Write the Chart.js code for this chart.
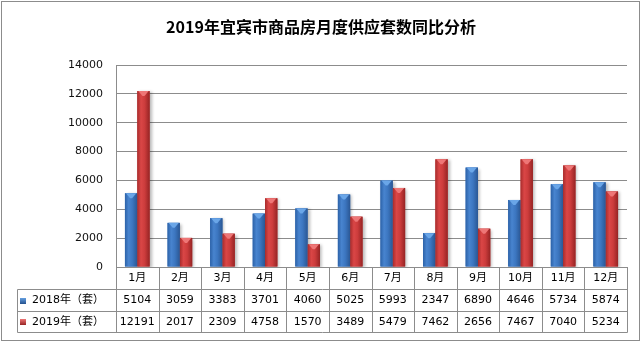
<!DOCTYPE html>
<html>
<head>
<meta charset="utf-8">
<style>
  html, body { margin: 0; padding: 0; background: #fff; }
  #wrap { width: 642px; height: 343px; position: relative; }
</style>
<script src="https://cdn.jsdelivr.net/npm/chart.js@4/dist/chart.umd.min.js"></script>
</head>
<body>
<div id="wrap"><canvas id="c" width="642" height="343"></canvas></div>
<script>
// Monthly new-housing supply, Yibin (units)
const chartTitle = '2019年宜宾市商品房月度供应套数同比分析';
const categories = ['1月', '2月', '3月', '4月', '5月', '6月', '7月', '8月', '9月', '10月', '11月', '12月'];
const seriesNames = ['2018年（套）', '2019年（套）'];
const supply2018 = [5104, 3059, 3383, 3701, 4060, 5025, 5993, 2347, 6890, 4646, 5734, 5874];
const supply2019 = [12191, 2017, 2309, 4758, 1570, 3489, 5479, 7462, 2656, 7467, 7040, 5234];
const yMin = 0, yMax = 14000, yStep = 2000;

const FONT = '"DejaVu Sans", "Noto Sans CJK SC", sans-serif';
const LINE = '#8c8c8c';

// bar shading: left edge, highlight, right edge, top bevel
const shades = [
  { base: '#3b73bd', stops: ['#2c62a8', '#4884cf', '#3c76c0', '#2a5794'], cap: '#6aa6e8' },
  { base: '#c53a3a', stops: ['#a82c2c', '#da4646', '#cc3c3c', '#962424'], cap: '#ee7676' }
];

// soft drop shadow under the bars
const barShadow = {
  id: 'barShadow',
  beforeDatasetDraw(chart) {
    const ctx = chart.ctx;
    ctx.save();
    ctx.shadowColor = 'rgba(0,0,0,0.28)';
    ctx.shadowBlur = 3;
    ctx.shadowOffsetX = 2;
    ctx.shadowOffsetY = 1;
  },
  afterDatasetDraw(chart) {
    chart.ctx.restore();
  }
};

// cylinder-like shading and bevelled caps on each bar
const barShade = {
  id: 'barShade',
  afterDatasetsDraw(chart) {
    const ctx = chart.ctx;
    chart.data.datasets.forEach((ds, di) => {
      const meta = chart.getDatasetMeta(di);
      const s = shades[di];
      meta.data.forEach(bar => {
        const l = bar.x - bar.width / 2, r = bar.x + bar.width / 2;
        const top = bar.y, h = bar.base - bar.y;
        const g = ctx.createLinearGradient(l, 0, r, 0);
        g.addColorStop(0, s.stops[0]);
        g.addColorStop(0.3, s.stops[1]);
        g.addColorStop(0.6, s.stops[2]);
        g.addColorStop(1, s.stops[3]);
        ctx.save();
        ctx.fillStyle = g;
        ctx.fillRect(l, top, r - l, h);
        const capH = Math.min(5, h);
        ctx.fillStyle = s.cap;
        ctx.beginPath();
        ctx.moveTo(l + 1, top);
        ctx.lineTo(r - 1, top);
        ctx.lineTo(bar.x + 1, top + capH);
        ctx.lineTo(bar.x - 1, top + capH);
        ctx.closePath();
        ctx.fill();
        ctx.restore();
      });
    });
  }
};

// title, outer frame and the data table under the x axis
const frameAndTable = {
  id: 'frameAndTable',
  afterDraw(chart) {
    const ctx = chart.ctx;
    const { left, right, bottom } = chart.chartArea;
    const x = chart.scales.x;
    const n = categories.length;
    const snap = v => Math.round(v) + 0.5;

    ctx.save();
    // outer frame
    ctx.strokeStyle = LINE;
    ctx.lineWidth = 1;
    ctx.strokeRect(1.5, 1.5, 638, 339);

    // title
    ctx.fillStyle = '#000';
    ctx.font = 'bold 16px "Noto Sans CJK SC", sans-serif';
    ctx.textAlign = 'center';
    ctx.textBaseline = 'middle';
    ctx.fillText(chartTitle, 321, 27);

    // table grid
    const rows = [bottom, bottom + 22, bottom + 44, bottom + 65];
    const tableLeft = 17;
    const bounds = [left];
    for (let i = 1; i < n; i++) bounds.push((x.getPixelForValue(i - 1) + x.getPixelForValue(i)) / 2);
    bounds.push(right);

    ctx.strokeStyle = LINE;
    ctx.beginPath();
    bounds.forEach(b => { ctx.moveTo(snap(b), snap(rows[0])); ctx.lineTo(snap(b), snap(rows[3])); });
    ctx.moveTo(snap(tableLeft), snap(rows[1])); ctx.lineTo(snap(tableLeft), snap(rows[3]));
    ctx.moveTo(snap(left), snap(rows[0])); ctx.lineTo(snap(right), snap(rows[0]));
    for (let r = 1; r < 4; r++) { ctx.moveTo(snap(tableLeft), snap(rows[r])); ctx.lineTo(snap(right), snap(rows[r])); }
    ctx.stroke();

    // table text
    ctx.fillStyle = '#000';
    ctx.font = '11px ' + FONT;
    ctx.textAlign = 'center';
    const mid = r => (rows[r] + rows[r + 1]) / 2 + 0.5;
    const values = [supply2018, supply2019];
    categories.forEach((c, i) => {
      const cx = x.getPixelForValue(i);
      ctx.fillText(c, cx, mid(0));
      ctx.fillText(String(values[0][i]), cx, mid(1));
      ctx.fillText(String(values[1][i]), cx, mid(2));
    });

    // row headers with series keys
    ctx.textAlign = 'left';
    seriesNames.forEach((name, si) => {
      const cy = mid(si + 1);
      const kg = ctx.createLinearGradient(0, cy - 3, 0, cy + 3);
      kg.addColorStop(0, shades[si].cap);
      kg.addColorStop(1, shades[si].stops[3]);
      ctx.fillStyle = kg;
      ctx.fillRect(20, Math.round(cy) - 3, 6, 6);
      ctx.fillStyle = '#000';
      ctx.fillText(name, 32, cy);
    });
    ctx.restore();
  }
};

new Chart(document.getElementById('c'), {
  type: 'bar',
  data: {
    labels: categories,
    datasets: [
      { label: seriesNames[0], data: supply2018, backgroundColor: shades[0].base, borderWidth: 0 },
      { label: seriesNames[1], data: supply2019, backgroundColor: shades[1].base, borderWidth: 0 }
    ]
  },
  options: {
    responsive: false,
    animation: false,
    layout: { padding: { left: 0, right: 15, top: 65, bottom: 76 } },
    plugins: {
      legend: { display: false },
      title: { display: false },
      tooltip: { enabled: false }
    },
    datasets: { bar: { barPercentage: 1, categoryPercentage: 0.58 } },
    scales: {
      x: {
        grid: { display: false },
        border: { color: LINE },
        ticks: { display: false },
        afterFit: s => { s.height = 0; }
      },
      y: {
        min: yMin, max: yMax,
        ticks: {
          stepSize: yStep, color: '#111', padding: 13,
          font: { family: FONT, size: 11 },
          callback: v => String(v)
        },
        grid: { color: LINE, drawTicks: false, tickLength: 0 },
        border: { color: LINE },
        afterFit: s => { s.width = 116; }
      }
    }
  },
  plugins: [barShadow, barShade, frameAndTable]
});
</script>
</body>
</html>
